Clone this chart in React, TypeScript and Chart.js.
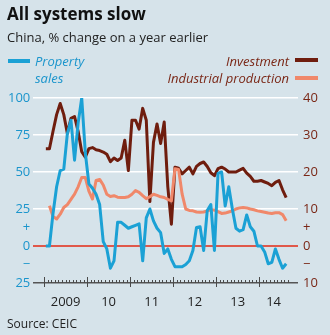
import React, { useEffect, useRef } from 'react';
import { Chart, registerables } from 'chart.js';

Chart.register(...registerables);

// Monthly data, Jan 2009 .. Aug 2014 (index 0 = Jan 2009)
const propertySales = [
  0, 0, 22, 40, 51, 52, 76, 85, 58, 83,
  100, 63, 42, 39, 35, 28, 3, -2, -15, -10,
  16, 16, 14, 12, 13, 14, 15, -10, 19, 25,
  17, 12, 9, -5, -2, -9, -14, -14, -14, -12.5,
  -10, -3, 12.5, 13, -3, 24, 28, -3, 49, 50,
  27, 40, 25, 12, 10, 11, 21, 13, 10, 0,
  0, -4, -12, -11, -2, -9, -15, -12,
];
const investment = [
  26.3, 26.3, 31, 35.5, 38.5, 35.5, 30.4, 34.5, 35, 31,
  25.5, 24, 26.3, 26.6, 26, 25.8, 25.4, 24.8, 22.8, 23.8,
  23.1, 23.8, 28.6, 20.4, 34, 34, 31.6, 37.2, 34, 12,
  28, 33, 27.7, 33.5, 16, 5.9, 21.3, 21, 19.5, 20.4,
  21.3, 19.5, 21.5, 22.3, 22.7, 21.5, 19.8, 19, 20.9, 21.3,
  20.8, 20, 20, 20, 20.5, 21, 19.7, 18.8, 17.5, 17.5,
  17.7, 17.3, 16.9, 16.3, 17.2, 17.7, 15.2, 13.1,
];
const industrialProduction = [
  null, 10.9, 8, 7.3, 8.6, 10.4, 11.2, 12.6, 14, 16,
  18.5, 18.5, 14.8, 12.7, 17.7, 18, 16.5, 14, 13.4, 13.6,
  13.2, 13.1, 13.1, 13.3, 14, 15, 14.5, 13.6, 12.8, 13.3,
  14, 13.7, 13.3, 13.1, 12.6, 12.2, 20.9, 20.7, 14, 10,
  9.6, 9.5, 9.2, 9.1, 9.2, 9.5, 9.8, 9.7, 9.3, 8.8,
  8.9, 9.2, 9.5, 10, 10.3, 10.4, 10.3, 10, 9.8, 9.5,
  9.3, 9.1, 8.9, 8.8, 9, 9, 8.5, 6.8,
];

const yearTickMonths = [6, 18, 30, 42, 54, 64];
const yearLabels = ['2009', '10', '11', '12', '13', '14'];
const leftTicks = [-25, -12.5, 0, 12.5, 25, 50, 75, 100];
const leftTickLabels = ['25', '\u2212', '0', '+', '25', '50', '75', '100'];
const rightTicks = [-10, -5, 0, 5, 10, 20, 30, 40];
const rightTickLabels = ['10', '\u2212', '0', '+', '10', '20', '30', '40'];

const BG = '#d6e3ea';
const BLUE = '#1ba1d5';
const BLUE_TEXT = '#1b95cc';
const DARKRED = '#6f1d0e';
const DARKRED_TEXT = '#7a2716';
const SALMON = '#f0886a';
const FONT = '"Open Sans", "DejaVu Sans", sans-serif';

const toPoints = (arr: (number | null)[]) => arr.map((v, i) => ({ x: i + 0.5, y: v }));

const monthTicksPlugin = {
  id: 'monthTicks',
  beforeDatasetsDraw(chart: any) {
    const xs = chart.scales.x;
    const ys = chart.scales.y;
    const ctx = chart.ctx;
    const yb = ys.getPixelForValue(-25);
    ctx.save();
    ctx.strokeStyle = '#4a4a4a';
    ctx.lineWidth = 1;
    const nMonths = propertySales.length;
    for (let m = 0; m <= nMonths; m++) {
      const x = Math.round(xs.getPixelForValue(m)) + 0.5;
      const major = m % 12 === 0;
      ctx.beginPath();
      ctx.moveTo(x, major ? yb - 6 : yb - 3);
      ctx.lineTo(x, major ? yb + 4 : yb);
      ctx.stroke();
    }
    ctx.restore();
  },
};

export default function App() {
  const canvasRef = useRef<HTMLCanvasElement | null>(null);

  useEffect(() => {
    if (!canvasRef.current) return;
    const chart = new Chart(canvasRef.current, {
      type: 'line',
      data: {
        datasets: [
          {
            label: 'Property sales',
            data: toPoints(propertySales),
            borderColor: BLUE,
            borderWidth: 3,
            pointRadius: 0,
            yAxisID: 'y',
            borderJoinStyle: 'round',
          },
          {
            label: 'Industrial production',
            data: toPoints(industrialProduction),
            borderColor: SALMON,
            borderWidth: 3,
            pointRadius: 0,
            yAxisID: 'y2',
            borderJoinStyle: 'round',
          },
          {
            label: 'Investment',
            data: toPoints(investment),
            borderColor: DARKRED,
            borderWidth: 3,
            pointRadius: 0,
            yAxisID: 'y2',
            borderJoinStyle: 'round',
          },
        ],
      },
      options: {
        responsive: false,
        animation: false,
        devicePixelRatio: 1,
        layout: { padding: { top: 98, left: 0, right: 0, bottom: 0 } },
        plugins: { legend: { display: false }, tooltip: { enabled: false } },
        scales: {
          x: {
            type: 'linear',
            min: -3,
            max: 70.8,
            grid: { display: false },
            border: { display: false },
            afterFit: (s: any) => { s.height = 52; },
            afterBuildTicks: (s: any) => { s.ticks = yearTickMonths.map((v) => ({ value: v })); },
            ticks: {
              autoSkip: false,
              maxRotation: 0,
              padding: 3,
              color: '#222',
              font: { family: FONT, size: 13 },
              callback: (_v: any, i: number) => yearLabels[i],
            },
          },
          y: {
            position: 'left',
            min: -25,
            max: 100,
            afterFit: (s: any) => { s.width = 33.3; },
            afterBuildTicks: (s: any) => { s.ticks = leftTicks.map((v) => ({ value: v })); },
            border: { display: false },
            grid: {
              drawTicks: false,
              lineWidth: (c: any) => (c.tick && c.tick.value === 0 ? 2 : 1.5),
              color: (c: any) => {
                const v = c.tick ? c.tick.value : null;
                if (v === 0) return '#e0584a';
                if (v === -25) return '#555555';
                if (v === 12.5 || v === -12.5) return 'rgba(0,0,0,0)';
                return '#ffffff';
              },
            },
            ticks: {
              padding: 3,
              color: BLUE_TEXT,
              font: { family: FONT, size: 13 },
              callback: (v: any) => leftTickLabels[leftTicks.indexOf(Number(v))],
            },
          },
          y2: {
            position: 'right',
            min: -10,
            max: 40,
            afterFit: (s: any) => { s.width = 32; },
            afterBuildTicks: (s: any) => { s.ticks = rightTicks.map((v) => ({ value: v })); },
            border: { display: false },
            grid: { display: false, drawTicks: false },
            ticks: {
              padding: 5,
              color: DARKRED_TEXT,
              font: { family: FONT, size: 13 },
              callback: (v: any) => rightTickLabels[rightTicks.indexOf(Number(v))],
            },
          },
        },
      },
      plugins: [monthTicksPlugin],
    } as any);
    return () => chart.destroy();
  }, []);

  const abs = (s: React.CSSProperties): React.CSSProperties => ({ position: 'absolute', whiteSpace: 'nowrap', lineHeight: 1, ...s });

  return (
    <div style={{ position: 'fixed', left: 0, top: 0, width: 330, height: 335, background: BG, fontFamily: FONT, overflow: 'hidden' }}>
      <canvas ref={canvasRef} width={330} height={335} style={{ position: 'absolute', left: 0, top: 0, width: 330, height: 335 }} />
      <div style={abs({ left: 7, top: 5, fontSize: 17, fontWeight: 700, color: '#111' })}>All systems slow</div>
      <div style={abs({ left: 7, top: 31, fontSize: 13, color: '#222' })}>China, % change on a year earlier</div>
      <div style={abs({ left: 7.5, top: 59, width: 22, height: 3.5, background: BLUE })} />
      <div style={abs({ left: 35, top: 55, fontSize: 13, fontStyle: 'italic', color: BLUE_TEXT })}>Property</div>
      <div style={abs({ left: 35, top: 71.5, fontSize: 13, fontStyle: 'italic', color: BLUE_TEXT })}>sales</div>
      <div style={abs({ right: 41, top: 54.5, fontSize: 13, fontStyle: 'italic', color: DARKRED_TEXT })}>Investment</div>
      <div style={abs({ right: 41, top: 72, fontSize: 13, fontStyle: 'italic', color: DARKRED_TEXT })}>Industrial production</div>
      <div style={abs({ left: 294.5, top: 57.5, width: 23, height: 4, background: DARKRED })} />
      <div style={abs({ left: 294.5, top: 76, width: 23, height: 4, background: SALMON })} />
      <div style={abs({ left: 7, top: 317.5, fontSize: 12, color: '#222' })}>Source: CEIC</div>
    </div>
  );
}
